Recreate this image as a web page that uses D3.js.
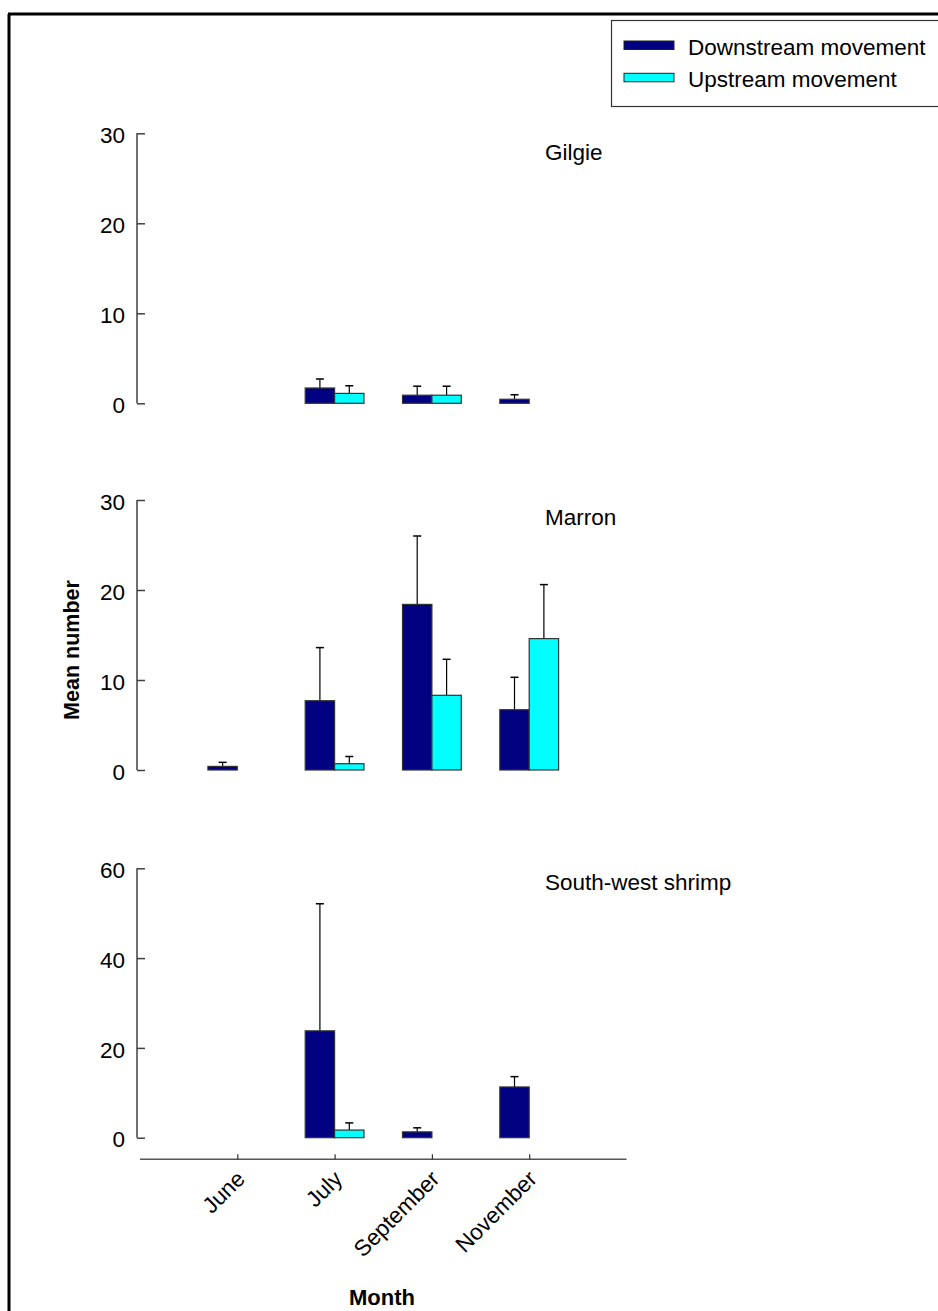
<!DOCTYPE html>
<html>
<head>
<meta charset="utf-8">
<script src="https://cdn.jsdelivr.net/npm/d3@7"></script>
<style>
  html, body { margin: 0; padding: 0; background: #fff; }
  svg { display: block; }
  text { font-family: "Liberation Sans", Arial, sans-serif; fill: #000; }
</style>
</head>
<body>
<script>
// Months sampled and the two movement directions
const months = ["June", "July", "September", "November"];
const directions = ["Downstream movement", "Upstream movement"];

// Mean number per month (Downstream, Upstream) and the standard error bars
const gilgieDown = [0, 1.7, 0.9, 0.45];
const gilgieUp = [0, 1.1, 0.9, 0];
const gilgieDownErr = [0, 1.0, 1.0, 0.5];
const gilgieUpErr = [0, 0.85, 1.0, 0];

const marronDown = [0.4, 7.7, 18.4, 6.7];
const marronUp = [0, 0.7, 8.3, 14.6];
const marronDownErr = [0.45, 5.9, 7.6, 3.6];
const marronUpErr = [0, 0.8, 4.0, 6.0];

const shrimpDown = [0, 23.8, 1.3, 11.3];
const shrimpUp = [0, 1.7, 0, 0];
const shrimpDownErr = [0, 28.3, 0.9, 2.3];
const shrimpUpErr = [0, 1.6, 0, 0];

const panelTitles = ["Gilgie", "Marron", "South-west shrimp"];
const yTicks30 = [0, 10, 20, 30];
const yTicks60 = [0, 20, 40, 60];

const colors = { down: "#000080", up: "#00FFFF" };

const W = 938, H = 1311;
const svg = d3.select("body").append("svg").attr("width", W).attr("height", H);

// Figure frame (top and left edges)
svg.append("line").attr("x1", 8).attr("x2", W).attr("y1", 14).attr("y2", 14)
  .attr("stroke", "#000").attr("stroke-width", 3);
svg.append("line").attr("x1", 9).attr("x2", 9).attr("y1", 14).attr("y2", H)
  .attr("stroke", "#000").attr("stroke-width", 3);

// Shared month position scale: months sit at 1..4 on a 0..5 axis
const x = d3.scaleLinear().domain([0, 5]).range([140, 626.5]);
const barW = 0.302; // bar width in month units

const panels = [
  { title: panelTitles[0], down: gilgieDown, up: gilgieUp, downErr: gilgieDownErr, upErr: gilgieUpErr,
    domain: [0, 30], ticks: yTicks30, range: [403.3, 133.3], titleY: 160 },
  { title: panelTitles[1], down: marronDown, up: marronUp, downErr: marronDownErr, upErr: marronUpErr,
    domain: [0, 30], ticks: yTicks30, range: [770, 500], titleY: 525 },
  { title: panelTitles[2], down: shrimpDown, up: shrimpUp, downErr: shrimpDownErr, upErr: shrimpUpErr,
    domain: [0, 60], ticks: yTicks60, range: [1137.7, 868.3], titleY: 890 }
];

const axisX = 137;
const FS = 22.5;

panels.forEach(p => {
  const y = d3.scaleLinear().domain(p.domain).range(p.range);
  const g = svg.append("g");

  // Y axis with inward ticks
  const ax = g.append("g").attr("transform", `translate(${axisX},0)`)
    .call(d3.axisRight(y).tickValues(p.ticks).tickSize(8).tickFormat(""));
  ax.select(".domain").attr("d", `M0,${y(p.domain[1])}V${y(0)}`).attr("stroke", "#404040").attr("stroke-width", 1.5);
  ax.selectAll(".tick line").attr("stroke", "#404040").attr("stroke-width", 1.5);

  g.selectAll("text.ytick").data(p.ticks).join("text")
    .attr("class", "ytick")
    .attr("x", 125).attr("y", d => y(d) + 1.5)
    .attr("dy", "0.36em")
    .attr("text-anchor", "end")
    .attr("font-size", FS)
    .text(d => d);

  // Panel title
  g.append("text").attr("x", 545).attr("y", p.titleY)
    .attr("font-size", FS).text(p.title);

  const series = [
    { vals: p.down, errs: p.downErr, color: colors.down, off: -barW },
    { vals: p.up, errs: p.upErr, color: colors.up, off: 0 }
  ];

  series.forEach(s => {
    const rows = months.map((m, i) => ({ i, v: s.vals[i], e: s.errs[i] })).filter(d => d.v > 0);
    // Error bars: upward whisker with cap
    g.selectAll(null).data(rows.filter(d => d.e > 0)).join("line")
      .attr("x1", d => x(d.i + 1 + s.off + barW / 2)).attr("x2", d => x(d.i + 1 + s.off + barW / 2))
      .attr("y1", d => y(d.v)).attr("y2", d => y(d.v + d.e))
      .attr("stroke", "#000").attr("stroke-width", 1.2);
    g.selectAll(null).data(rows.filter(d => d.e > 0)).join("line")
      .attr("x1", d => x(d.i + 1 + s.off + barW / 2) - 4).attr("x2", d => x(d.i + 1 + s.off + barW / 2) + 4)
      .attr("y1", d => y(d.v + d.e)).attr("y2", d => y(d.v + d.e))
      .attr("stroke", "#000").attr("stroke-width", 1.5);
    // Bars
    g.selectAll(null).data(rows).join("rect")
      .attr("x", d => x(d.i + 1 + s.off))
      .attr("width", x(barW) - x(0))
      .attr("y", d => y(d.v))
      .attr("height", d => y(0) - y(d.v))
      .attr("fill", s.color)
      .attr("stroke", "#333").attr("stroke-width", 1.2);
  });
});

// Bottom month axis with upward ticks
const xAxisY = 1159.3;
const xa = svg.append("g").attr("transform", `translate(0,${xAxisY})`)
  .call(d3.axisTop(x).tickValues([1, 2, 3, 4]).tickSize(5).tickFormat(""));
xa.select(".domain").attr("d", `M${x(0)},0H${x(5)}`).attr("stroke", "#555").attr("stroke-width", 1.5);
xa.selectAll(".tick line").attr("stroke", "#333").attr("stroke-width", 1.2);

svg.selectAll("text.xtick").data(months).join("text")
  .attr("class", "xtick")
  .attr("text-anchor", "end")
  .attr("font-size", FS)
  .attr("transform", (d, i) => `translate(${x(i + 1) + 9},${xAxisY + 21}) rotate(-45)`)
  .text(d => d);

// Axis titles
svg.append("text").attr("x", 382).attr("y", 1305)
  .attr("text-anchor", "middle").attr("font-size", 22).attr("font-weight", "bold").text("Month");
svg.append("text")
  .attr("transform", `translate(79,650) rotate(-90)`)
  .attr("text-anchor", "middle").attr("font-size", 21.5).attr("font-weight", "bold").text("Mean number");

// Legend
const lg = svg.append("g");
lg.append("rect").attr("x", 611.5).attr("y", 20.5).attr("width", 340).attr("height", 86)
  .attr("fill", "#fff").attr("stroke", "#333").attr("stroke-width", 1.2);
const legendRows = [
  { label: directions[0], color: colors.down, y: 41 },
  { label: directions[1], color: colors.up, y: 73.3 }
];
lg.selectAll(null).data(legendRows).join("rect")
  .attr("x", 624).attr("y", d => d.y).attr("width", 50).attr("height", 8.5)
  .attr("fill", d => d.color).attr("stroke", "#222").attr("stroke-width", 1);
lg.selectAll(null).data(legendRows).join("text")
  .attr("x", 688).attr("y", d => d.y + 5.5).attr("dy", "0.36em")
  .attr("font-size", FS).text(d => d.label);
</script>
</body>
</html>
